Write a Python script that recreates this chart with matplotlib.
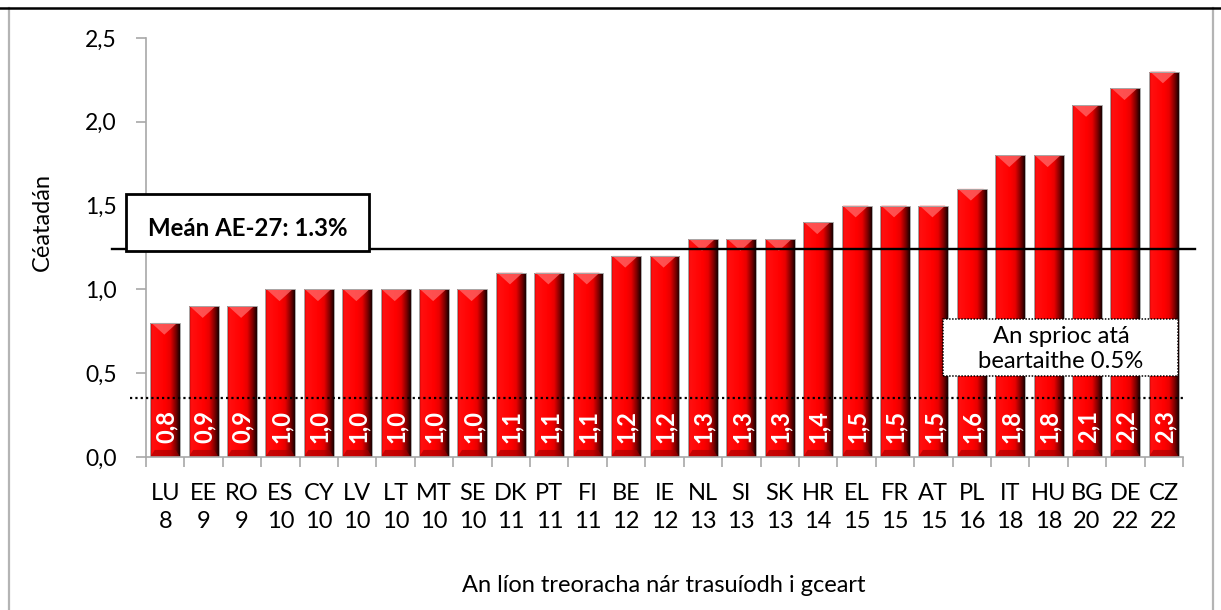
import numpy as np
import matplotlib
matplotlib.use("Agg")
import matplotlib.pyplot as plt
from matplotlib.colors import LinearSegmentedColormap
from matplotlib.patches import Rectangle, Polygon
from matplotlib.lines import Line2D

countries = ["LU", "EE", "RO", "ES", "CY", "LV", "LT", "MT", "SE", "DK", "PT", "FI", "BE", "IE",
             "NL", "SI", "SK", "HR", "EL", "FR", "AT", "PL", "IT", "HU", "BG", "DE", "CZ"]
counts = [8, 9, 9, 10, 10, 10, 10, 10, 10, 11, 11, 11, 12, 12, 13, 13, 13, 14, 15, 15, 15, 16, 18, 18, 20, 22, 22]
values = [0.8, 0.9, 0.9, 1.0, 1.0, 1.0, 1.0, 1.0, 1.0, 1.1, 1.1, 1.1, 1.2, 1.2, 1.3, 1.3, 1.3, 1.4,
          1.5, 1.5, 1.5, 1.6, 1.8, 1.8, 2.1, 2.2, 2.3]
mean_level = 1.24
target_level = 0.352
mean_text = "Meán AE-27: 1.3%"
target_text = "An sprioc atá\nbeartaithe 0.5%"
y_ticks = [0.0, 0.5, 1.0, 1.5, 2.0, 2.5]
y_label = "Céatadán"
x_label = "An líon treoracha nár trasuíodh i gceart"

plt.rcParams['font.family'] = ['Lato', 'DejaVu Sans']

W, H = 1221, 610
fig = plt.figure(figsize=(W / 100, H / 100), dpi=100)
ax = fig.add_axes([146/W, 1-457/H, (1183-146)/W, (457-38)/H])

def fx(px):
    return px / W

def fy(py):
    return 1 - py / H

x = np.arange(len(countries))
bars = ax.bar(x, values, width=0.78, color="#ff0000", edgecolor="none", zorder=2)

cmap = LinearSegmentedColormap.from_list("barshade", [
    (0.0, "#b00000"), (0.06, "#ff1010"), (0.5, "#ff0000"),
    (0.68, "#e80000"), (0.86, "#800000"), (1.0, "#1a0000")])
grad = np.linspace(0, 1, 64).reshape(1, -1)
bev = 0.07
for b in bars:
    x0, w, h = b.get_x(), b.get_width(), b.get_height()
    im = ax.imshow(grad, cmap=cmap, aspect="auto", extent=(x0, x0 + w, 0, h), zorder=2.1,
                   interpolation="bicubic")
    im.set_clip_path(b)
    # top bevel (lighter chevron)
    ax.add_patch(Polygon([(x0 + w * 0.04, h), (x0 + w * 0.9, h), (x0 + w * 0.47, h - bev)], closed=True,
                         facecolor="#ff6464", edgecolor="none", alpha=0.8, zorder=2.3))
    # bottom bevel (darker)
    ax.add_patch(Polygon([(x0, 0), (x0 + w, 0), (x0 + w * 0.85, bev * 0.6), (x0 + w * 0.15, bev * 0.6)],
                         closed=True, facecolor="#a00000", edgecolor="none", alpha=0.6, zorder=2.3))
    ax.add_patch(Rectangle((x0, 0), w, h, fill=False, edgecolor="#a8a8a8", linewidth=0.7, zorder=2.4))

for xi, v in zip(x, values):
    ax.text(xi + 0.02, 0.085, f"{v:.1f}".replace(".", ","), rotation=90, ha="center", va="bottom",
            color="white", fontsize=17, fontweight="bold", zorder=4)

ax.set_xlim(-0.5, len(countries) - 0.5)
ax.set_ylim(0, 2.5)
ax.set_yticks(y_ticks)
ax.set_yticklabels([f"{t:.1f}".replace(".", ",") for t in y_ticks], fontsize=16.5)
ax.set_xticks(x)
ax.set_xticklabels([f"{c}\n{n}" for c, n in zip(countries, counts)], fontsize=17, linespacing=1.4)
ax.set_xticks(np.arange(-0.5, len(countries), 1), minor=True)
ax.tick_params(axis="x", which="major", length=0, pad=19)
ax.tick_params(axis="x", which="minor", length=7, width=1.2, color="#a8a8a8", direction="out")
ax.tick_params(axis="y", length=7, width=1.2, color="#a8a8a8", direction="out", pad=14)
for s in ["top", "right"]:
    ax.spines[s].set_visible(False)
for s in ["left", "bottom"]:
    ax.spines[s].set_color("#a8a8a8")
    ax.spines[s].set_linewidth(1.2)

fig.text(fx(42), fy(222), y_label, fontsize=17, rotation=90, ha="center", va="center")
fig.text(fx(664), fy(585), x_label, fontsize=17, ha="center", va="center")

# reference lines
ax.plot([-1.385, 26.82], [mean_level, mean_level], color="black", linewidth=1.7, clip_on=False, zorder=5)
ax.plot([-0.92, 26.5], [target_level, target_level], color="black", linewidth=1.6,
        linestyle=(0, (1, 1.4)), clip_on=False, zorder=5)

# text boxes
fig.patches.append(Rectangle((fx(126), fy(251)), (369-126)/W, 57/H, transform=fig.transFigure,
                             facecolor="white", edgecolor="black", linewidth=2.0, zorder=6))
fig.text(fx(148), fy(228), mean_text, fontsize=17.3, fontweight="bold", ha="left", va="center", zorder=7)
fig.patches.append(Rectangle((fx(943), fy(376)), (1178-943)/W, 57/H, transform=fig.transFigure,
                             facecolor="white", edgecolor="black", linewidth=1.1,
                             linestyle=(0, (1, 1)), zorder=6))
fig.text(fx(1061), fy(349), target_text, fontsize=17.2, ha="center", va="center",
         linespacing=1.2, zorder=7)

# frame
fig.add_artist(Line2D([fx(9), fx(9)], [0, fy(8)], transform=fig.transFigure, color="#b4b4b4", linewidth=1.6))
fig.add_artist(Line2D([fx(1213), fx(1213)], [0, fy(8)], transform=fig.transFigure, color="#b4b4b4", linewidth=1.6))
fig.add_artist(Line2D([0, 1], [fy(7.5), fy(7.5)], transform=fig.transFigure, color="black", linewidth=1.8))

fig.savefig("out.png", dpi=100)
